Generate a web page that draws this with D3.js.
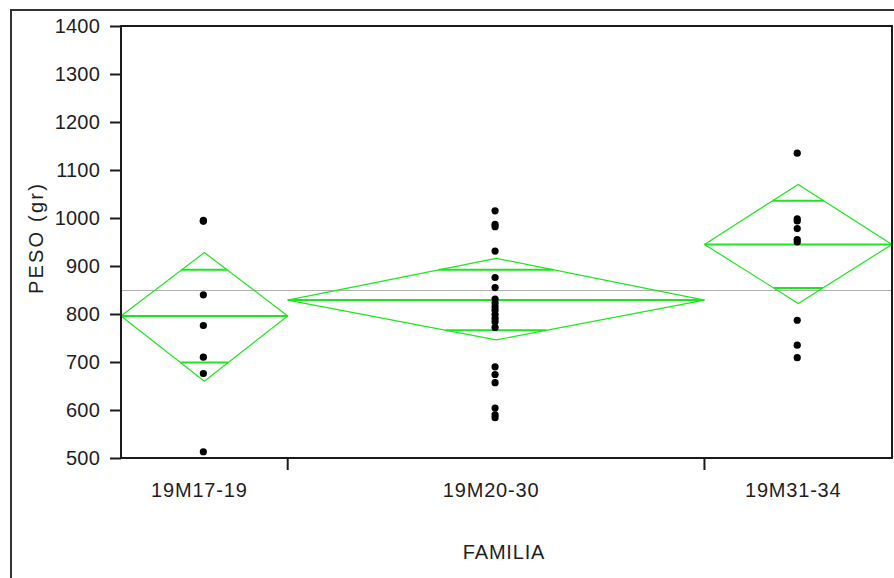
<!DOCTYPE html>
<html>
<head>
<meta charset="utf-8">
<title>PESO por FAMILIA</title>
<script src="https://d3js.org/d3.v7.min.js"></script>
<style>
  body { margin: 0; background: #fff; }
  text { font-family: "Liberation Sans", Arial, sans-serif; fill: #1e1e1e; }
</style>
</head>
<body>
<svg width="894" height="578"></svg>
<script>
// data
var familias = ["19M17-19", "19M20-30", "19M31-34"];
var counts = [8, 20, 9];
var peso1 = [995, 993, 840, 776, 710, 676, 513];
var peso2 = [1015, 987, 982, 931, 876, 855, 831, 823, 815, 808, 799, 791, 784, 772, 690, 674, 657, 604, 590, 584];
var peso3 = [1135, 998, 994, 978, 955, 950, 787, 735, 709];
var means = [796, 829, 945];
var ciUpper = [928, 916, 1070];
var ciLower = [660, 746, 822];
var ovUpper = [892, 892, 1036];
var ovLower = [699, 766, 854];
var grandMean = 849;
var yTicks = [500, 600, 700, 800, 900, 1000, 1100, 1200, 1300, 1400];

var svg = d3.select("svg");
var pLeft = 121, pRight = 892, pTop = 26, pBottom = 458;

// outer frame
svg.append("rect")
  .attr("x", 11).attr("y", 10)
  .attr("width", 900).attr("height", 600)
  .attr("fill", "none").attr("stroke", "#333").attr("stroke-width", 2);

var y = d3.scaleLinear().domain([500, 1400]).range([pBottom, pTop]);

// x: group widths proportional to counts
var total = d3.sum(counts);
var x = d3.scaleLinear().domain([0, total]).range([pLeft, pRight]);
var edges = [0];
counts.forEach(function(c, i) { edges.push(edges[i] + c); });
var groups = familias.map(function(f, i) {
  return {name: f, x0: x(edges[i]), x1: x(edges[i + 1]),
          pts: [peso1, peso2, peso3][i],
          mean: means[i], up: ciUpper[i], lo: ciLower[i],
          ou: ovUpper[i], ol: ovLower[i]};
});

// grand mean
svg.append("line")
  .attr("x1", pLeft).attr("x2", pRight)
  .attr("y1", y(grandMean)).attr("y2", y(grandMean))
  .attr("stroke", "#b0b0b0").attr("stroke-width", 1.2);

var green = "#1ee61e";
groups.forEach(function(g) {
  var cx = (g.x0 + g.x1) / 2, hw = (g.x1 - g.x0) / 2;
  var dg = svg.append("g");
  dg.append("path")
    .attr("d", d3.line()([[g.x0, y(g.mean)], [cx, y(g.up)], [g.x1, y(g.mean)], [cx, y(g.lo)], [g.x0, y(g.mean)]]))
    .attr("fill", "none").attr("stroke", green).attr("stroke-width", 1.2);
  dg.append("line")
    .attr("x1", g.x0).attr("x2", g.x1)
    .attr("y1", y(g.mean)).attr("y2", y(g.mean))
    .attr("stroke", green).attr("stroke-width", 2);
  [[g.ou, g.up], [g.ol, g.lo]].forEach(function(o) {
    var w = hw * (1 - (o[0] - g.mean) / (o[1] - g.mean));
    dg.append("line")
      .attr("x1", cx - w).attr("x2", cx + w)
      .attr("y1", y(o[0])).attr("y2", y(o[0]))
      .attr("stroke", green).attr("stroke-width", 2);
  });
  svg.append("g").selectAll("circle")
    .data(g.pts).enter().append("circle")
    .attr("cx", cx - 1)
    .attr("cy", function(d) { return y(d); })
    .attr("r", 3.6)
    .attr("fill", "#000");
});

// plot frame
svg.append("rect")
  .attr("x", pLeft).attr("y", pTop)
  .attr("width", pRight - pLeft).attr("height", pBottom - pTop)
  .attr("fill", "none").attr("stroke", "#1a1a1a").attr("stroke-width", 2);

// y axis
var yAxis = svg.append("g")
  .attr("transform", "translate(" + pLeft + ",0)")
  .call(d3.axisLeft(y).tickValues(yTicks).tickSize(11).tickPadding(10).tickFormat(d3.format("d")));
yAxis.select(".domain").remove();
yAxis.selectAll("line").attr("stroke", "#1a1a1a").attr("stroke-width", 2);
yAxis.selectAll("text").attr("font-size", 20).attr("fill", "#1e1e1e")
  .attr("letter-spacing", 0.2)
  .style("font-family", "'Liberation Sans', Arial, sans-serif");

// x axis ticks at group boundaries
svg.append("g").selectAll("line")
  .data(edges.slice(1, -1)).enter().append("line")
  .attr("x1", function(d) { return x(d); }).attr("x2", function(d) { return x(d); })
  .attr("y1", pBottom).attr("y2", pBottom + 12)
  .attr("stroke", "#1a1a1a").attr("stroke-width", 2);

svg.append("g").selectAll("text")
  .data(groups).enter().append("text")
  .attr("x", function(g) { return (g.x0 + g.x1) / 2 - 5; })
  .attr("y", 497)
  .attr("text-anchor", "middle")
  .attr("font-size", 20)
  .attr("letter-spacing", 0.8)
  .text(function(g) { return g.name; });

svg.append("text")
  .attr("x", 504).attr("y", 559)
  .attr("text-anchor", "middle")
  .attr("font-size", 20)
  .attr("letter-spacing", 0.8)
  .text("FAMILIA");

svg.append("text")
  .attr("transform", "translate(43,238) rotate(-90)")
  .attr("text-anchor", "middle")
  .attr("font-size", 20)
  .attr("letter-spacing", 2.2)
  .text("PESO (gr)");
</script>
</body>
</html>
